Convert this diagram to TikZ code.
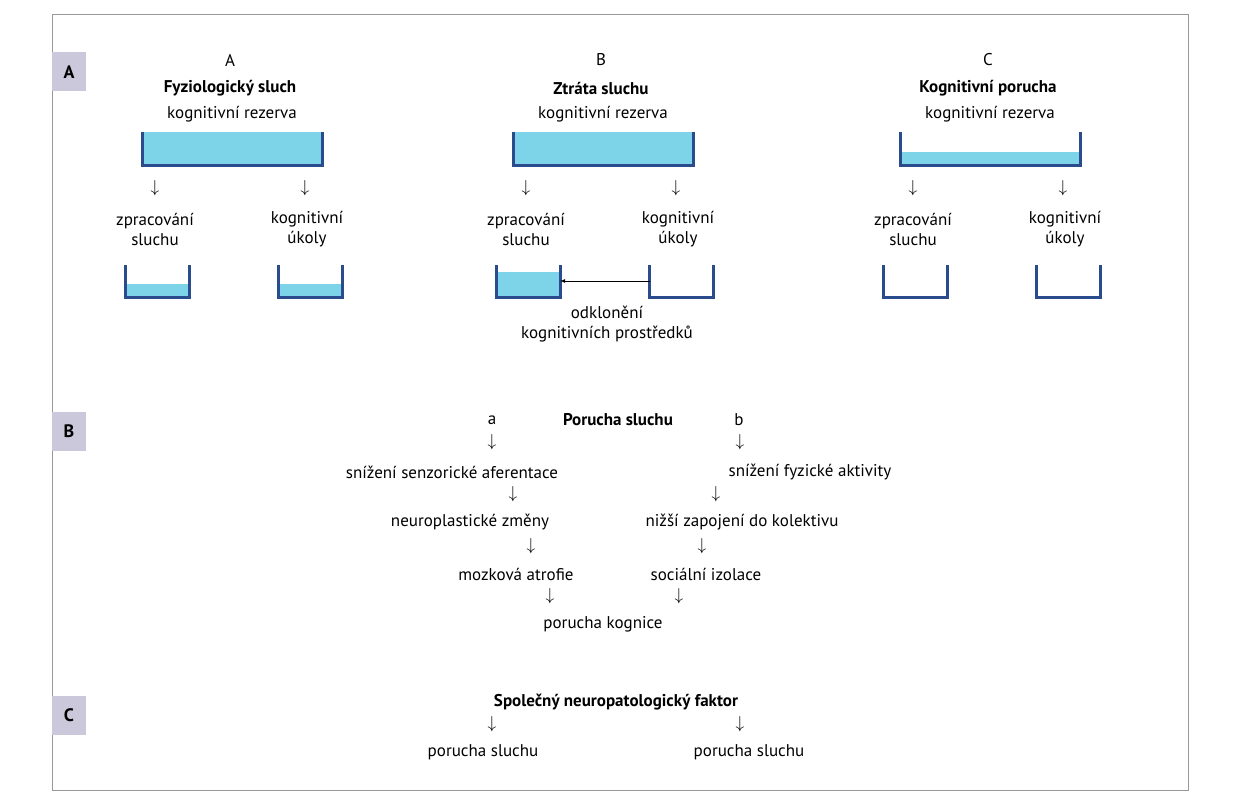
\documentclass[tikz,border=0pt]{standalone}
\usepackage{fontspec}
\setmainfont{PT Sans}
\usetikzlibrary{positioning,arrows}
\definecolor{tank}{HTML}{2B4C8C}
\definecolor{water}{HTML}{7DD3E8}
\definecolor{tag}{HTML}{CBC8DC}
\begin{document}
\begin{tikzpicture}
[   x=1pt,y=-1pt,
    txt/.style={font=\fontsize{17}{20}\selectfont,inner sep=0pt},
    bold/.style={txt,font=\fontsize{17}{20}\selectfont\bfseries},
    tagbox/.style={fill=tag,minimum width=34pt,minimum height=39pt,font=\fontsize{18}{20}\selectfont\bfseries,inner sep=0pt},
]
\tikzset{normal arrow/.style={draw,-latex,thick}}
\useasboundingbox (0,0) rectangle (1240,800);
\draw[black!40] (52,14) rectangle (1188,790);
\node[tagbox] (tA) at (69,72) {A};
\node[tagbox] (tB) at (69,431) {B};
\node[tagbox] (tC) at (69,715) {C};
% tanks: centre x, level of the big one
\foreach \cx/\lvl/\sl/\sr/\n/\t [count=\i] in {232/132/284/284/A/Fyziologický sluch,603/132/272/297/B/Ztráta sluchu,990/152/297/297/C/Kognitivní porucha}
{
	\fill[water] (\cx-90,\lvl) rectangle (\cx+90,165);
	\draw[tank,line width=3pt] (\cx-90,132) |- (\cx+90,165) -- (\cx+90,132);
	\fill[water] (\cx-107,\sl) rectangle (\cx-43,297);
	\draw[tank,line width=3pt] (\cx-107,265) |- (\cx-43,297) -- (\cx-43,265);
	\fill[water] (\cx+46,\sr) rectangle (\cx+110,297);
	\draw[tank,line width=3pt] (\cx+46,265) |- (\cx+110,297) -- (\cx+110,265);
	\coordinate (l-\i) at (\cx-43,281);
	\coordinate (r-\i) at (\cx+47,281);
	\node[txt] (n-\i) at (\cx-2,60) {\n};
	\node[bold] (h-\i) at (\cx-2,88) {\t};
	\node[txt] (k-\i) at (\cx,114) {kognitivní rezerva};
	\node[txt] (da-\i) at (\cx-77,188) {$\downarrow$};
	\node[txt] (db-\i) at (\cx+73,188) {$\downarrow$};
	\node[txt,align=center] (z-\i) at (\cx-77,229) {zpracování\\sluchu};
	\node[txt,align=center] (u-\i) at (\cx+75,229) {kognitivní\\úkoly};
}
\path[normal arrow] (r-2) -- (l-2);
\node[txt,align=center] (odk) at (607,324) {odklonění\\kognitivních prostředků};
% B
\node[txt] (a) at (492,420) {a};
\node[bold] (por) at (618,420) {Porucha sluchu};
\node[txt] (b) at (739,420) {b};
\node[txt] (a1) at (492,442) {$\downarrow$};
\node[txt] (b1) at (740,442) {$\downarrow$};
\node[txt] (sen) at (452,472) {snížení senzorické aferentace};
\node[txt] (fyz) at (810,472) {snížení fyzické aktivity};
\node[txt] (a2) at (513,494) {$\downarrow$};
\node[txt] (b2) at (716,494) {$\downarrow$};
\node[txt] (neu) at (470,522) {neuroplastické změny};
\node[txt] (kol) at (742,522) {nižší zapojení do kolektivu};
\node[txt] (a3) at (531,546) {$\downarrow$};
\node[txt] (b3) at (702,546) {$\downarrow$};
\node[txt] (moz) at (516,574) {mozková atrofie};
\node[txt] (soc) at (706,574) {sociální izolace};
\node[txt] (a4) at (550,596) {$\downarrow$};
\node[txt] (b4) at (679,596) {$\downarrow$};
\node[txt] (kog) at (603,624) {porucha kognice};
% C
\node[bold] (spo) at (616,702) {Společný neuropatologický faktor};
\node[txt] (c1) at (492,724) {$\downarrow$};
\node[txt] (c2) at (740,724) {$\downarrow$};
\node[txt] (ps1) at (483,752) {porucha sluchu};
\node[txt] (ps2) at (749,752) {porucha sluchu};
\end{tikzpicture}
\end{document}
